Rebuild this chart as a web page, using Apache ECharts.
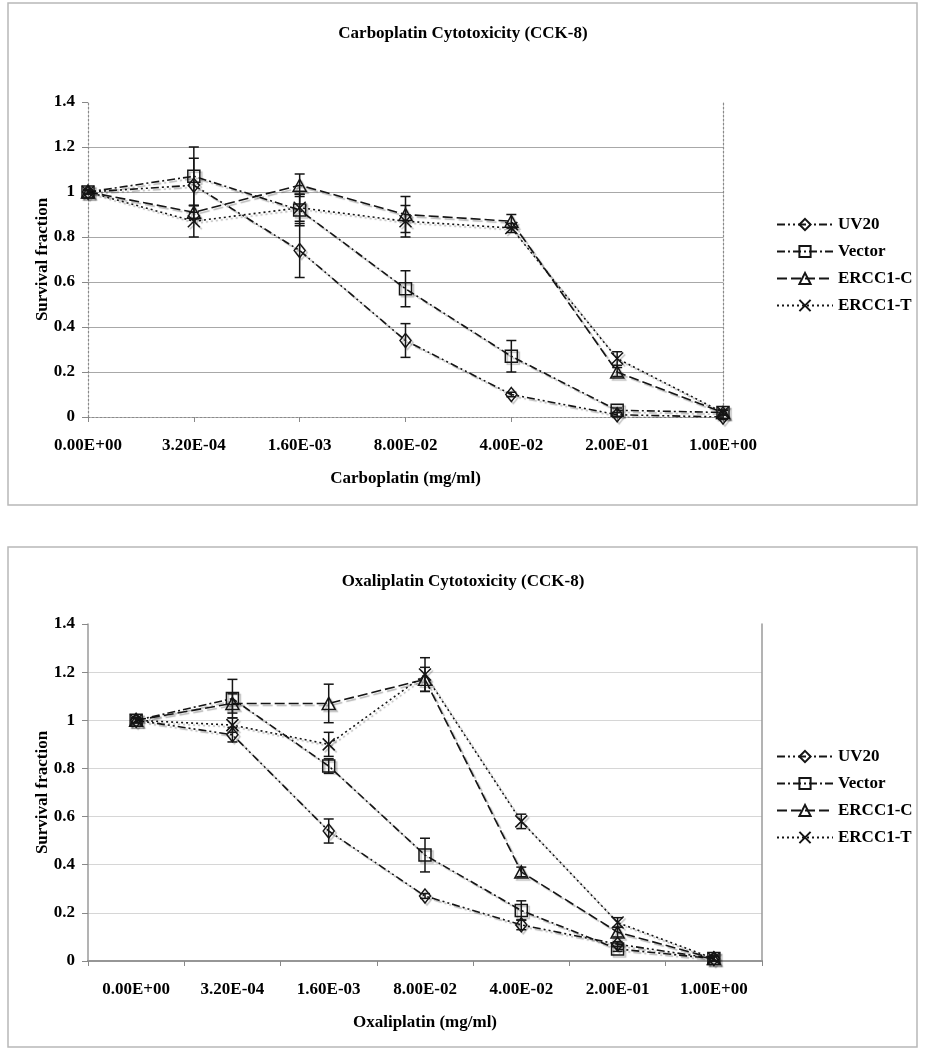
<!DOCTYPE html>
<html>
<head>
<meta charset="utf-8">
<script src="https://cdn.jsdelivr.net/npm/echarts@6/dist/echarts.min.js"></script>
<style>
html,body{margin:0;padding:0;background:#fff;}
#chart{width:926px;height:1050px;}
</style>
</head>
<body>
<div id="chart"></div>
<script>
// ---- data ----
const categories = ['0.00E+00','3.20E-04','1.60E-03','8.00E-02','4.00E-02','2.00E-01','1.00E+00'];
const seriesNames = ['UV20','Vector','ERCC1-C','ERCC1-T'];
const yTicks = [0, 0.2, 0.4, 0.6, 0.8, 1.0, 1.2, 1.4];

// Carboplatin
const carboUV20      = [1.00, 1.03, 0.74, 0.34, 0.10, 0.01, 0.00];
const carboUV20Err   = [0.01, 0.12, 0.12, 0.075, 0.01, 0.01, 0.01];
const carboVector    = [1.00, 1.07, 0.92, 0.57, 0.27, 0.03, 0.02];
const carboVectorErr = [0.01, 0.13, 0.07, 0.08, 0.07, 0.01, 0.01];
const carboErcc1C    = [1.00, 0.91, 1.03, 0.90, 0.87, 0.20, 0.02];
const carboErcc1CErr = [0.01, 0.03, 0.05, 0.08, 0.03, 0.02, 0.01];
const carboErcc1T    = [1.00, 0.87, 0.93, 0.87, 0.84, 0.26, 0.02];
const carboErcc1TErr = [0.01, 0.07, 0.06, 0.07, 0.02, 0.03, 0.01];

// Oxaliplatin
const oxaUV20      = [1.00, 0.94, 0.54, 0.27, 0.15, 0.07, 0.01];
const oxaUV20Err   = [0.01, 0.03, 0.05, 0.01, 0.02, 0.01, 0.01];
const oxaVector    = [1.00, 1.09, 0.81, 0.44, 0.21, 0.05, 0.01];
const oxaVectorErr = [0.01, 0.08, 0.03, 0.07, 0.04, 0.01, 0.01];
const oxaErcc1C    = [1.00, 1.07, 1.07, 1.17, 0.37, 0.12, 0.01];
const oxaErcc1CErr = [0.01, 0.04, 0.08, 0.05, 0.02, 0.02, 0.01];
const oxaErcc1T    = [1.00, 0.98, 0.90, 1.19, 0.58, 0.16, 0.01];
const oxaErcc1TErr = [0.01, 0.03, 0.05, 0.07, 0.03, 0.02, 0.01];

// ---- styles ----
const FONT = 'Liberation Serif';
const INK = '#151515';
const styles = {
  'UV20':    {symbol: 'diamond', size: [11, 14], dash: [8, 3, 2, 3, 2, 3]},
  'Vector':  {symbol: 'rect', size: [12, 12], dash: [8, 3, 2, 3]},
  'ERCC1-C': {symbol: 'triangle', size: [13, 12], dash: [10, 4]},
  'ERCC1-T': {symbol: 'path://M0,0L10,10M10,0L0,10', size: [12, 12], dash: [2, 3]}
};

function lineSeries(name, data, axisIdx) {
  const s = styles[name];
  return {
    type: 'line', name: name, data: data,
    xAxisIndex: axisIdx, yAxisIndex: axisIdx,
    symbol: s.symbol, symbolSize: s.size,
    showAllSymbol: true,
    lineStyle: {color: INK, width: 1.6, type: s.dash,
      shadowColor: 'rgba(0,0,0,0.28)', shadowBlur: 1, shadowOffsetX: 2, shadowOffsetY: 2},
    itemStyle: {color: 'rgba(255,255,255,0)', borderColor: INK, borderWidth: 1.5,
      shadowColor: 'rgba(0,0,0,0.25)', shadowBlur: 1, shadowOffsetX: 2, shadowOffsetY: 2},
    emphasis: {disabled: true},
    z: 3
  };
}

function errSeries(name, vals, errs, axisIdx) {
  return {
    type: 'custom', name: name + ' err',
    xAxisIndex: axisIdx, yAxisIndex: axisIdx,
    data: vals.map((v, i) => [i, v, errs[i]]),
    encode: {x: 0, y: 1},
    z: 4, silent: true,
    renderItem: function (params, api) {
      const i = api.value(0), v = api.value(1), e = api.value(2);
      const hi = api.coord([i, v + e]);
      const lo = api.coord([i, v - e]);
      const w = 5;
      const st = {stroke: INK, lineWidth: 1.5};
      return {type: 'group', children: [
        {type: 'line', shape: {x1: hi[0], y1: hi[1], x2: lo[0], y2: lo[1]}, style: st},
        {type: 'line', shape: {x1: hi[0] - w, y1: hi[1], x2: hi[0] + w, y2: hi[1]}, style: st},
        {type: 'line', shape: {x1: lo[0] - w, y1: lo[1], x2: lo[0] + w, y2: lo[1]}, style: st}
      ]};
    }
  };
}

const labelStyle = {fontFamily: FONT, fontWeight: 'bold', fontSize: 17, color: '#000'};

function mainX(gridIndex, boundaryGap, lineStyle, name) {
  return {
    type: 'category', gridIndex: gridIndex, data: categories, boundaryGap: boundaryGap,
    position: 'bottom',
    axisLine: {show: true, lineStyle: lineStyle},
    axisTick: {show: true, length: 5, lineStyle: {color: '#888'}},
    axisLabel: Object.assign({margin: 20, interval: 0}, labelStyle),
    name: name, nameLocation: 'middle', nameGap: 53, nameMoveOverlap: false,
    nameTextStyle: labelStyle
  };
}
function borderX(gridIndex, boundaryGap, lineStyle) {
  return {
    type: 'category', gridIndex: gridIndex, data: categories, boundaryGap: boundaryGap,
    position: 'top',
    axisLine: {show: true, lineStyle: lineStyle},
    axisTick: {show: false}, axisLabel: {show: false}, splitLine: {show: false}
  };
}
function mainY(gridIndex, lineStyle, splitColors) {
  return {
    type: 'value', gridIndex: gridIndex, min: 0, max: 1.4, interval: 0.2,
    position: 'left',
    axisLine: {show: true, lineStyle: lineStyle},
    axisTick: {show: true, length: 6, lineStyle: {color: '#888'}},
    axisLabel: Object.assign({margin: 13, formatter: v => String(+v.toFixed(1))}, labelStyle),
    splitLine: {show: true, lineStyle: {color: splitColors, width: 1.2}},
    name: 'Survival fraction', nameLocation: 'middle', nameGap: 37, nameMoveOverlap: false,
    nameTextStyle: labelStyle
  };
}
function borderY(gridIndex, lineStyle) {
  return {
    type: 'value', gridIndex: gridIndex, min: 0, max: 1.4, interval: 0.2,
    position: 'right',
    axisLine: {show: true, lineStyle: lineStyle},
    axisTick: {show: false}, axisLabel: {show: false}, splitLine: {show: false}
  };
}

const dotted = {color: '#8a8a8a', width: 1.2, type: [2, 2]};
const topSplit = yTicks.map((t, i) => (i === 0 || i === yTicks.length - 1) ? 'rgba(0,0,0,0)' : '#a8a8a8');
const botSplit = yTicks.map((t, i) => (i === 0 || i === yTicks.length - 1) ? 'rgba(0,0,0,0)' : '#d6d6d6');

const chart = echarts.init(document.getElementById('chart'), null, {renderer: 'canvas'});

const legendBase = {
  orient: 'vertical', left: 776, padding: 0, itemWidth: 56, itemHeight: 14, itemGap: 10,
  textStyle: {fontFamily: FONT, fontWeight: 'bold', fontSize: 17, color: '#000'},
  data: seriesNames, selectedMode: false
};

const option = {
  backgroundColor: '#fff',
  animation: false,
  title: [
    {text: 'Carboplatin Cytotoxicity (CCK-8)', left: 'center', top: 20,
     textStyle: {fontFamily: FONT, fontWeight: 'bold', fontSize: 17, color: '#000'}},
    {text: 'Oxaliplatin Cytotoxicity (CCK-8)', left: 'center', top: 568,
     textStyle: {fontFamily: FONT, fontWeight: 'bold', fontSize: 17, color: '#000'}}
  ],
  legend: [
    Object.assign({}, legendBase, {top: 216}),
    Object.assign({}, legendBase, {top: 748})
  ],
  grid: [
    {left: 88, width: 635, top: 102, height: 315},
    {left: 88, width: 674, top: 624, height: 337}
  ],
  xAxis: [
    mainX(0, false, dotted, 'Carboplatin (mg/ml)'),
    borderX(0, false, dotted),
    mainX(1, true, {color: '#8a8a8a', width: 2.2}, 'Oxaliplatin (mg/ml)'),
    borderX(1, true, {color: '#9a9a9a', width: 1.5})
  ],
  yAxis: [
    mainY(0, dotted, topSplit),
    borderY(0, dotted),
    mainY(1, {color: '#9a9a9a', width: 1.5}, botSplit),
    borderY(1, {color: '#9a9a9a', width: 1.5})
  ],
  graphic: [
    {type: 'rect', shape: {x: 8, y: 3, width: 909, height: 502}, style: {fill: 'none', stroke: '#b8b8b8', lineWidth: 1.5}, z: -10},
    {type: 'rect', shape: {x: 8, y: 547, width: 909, height: 500}, style: {fill: 'none', stroke: '#b8b8b8', lineWidth: 1.5}, z: -10}
  ],
  series: [
    lineSeries('UV20', carboUV20, 0),
    lineSeries('Vector', carboVector, 0),
    lineSeries('ERCC1-C', carboErcc1C, 0),
    lineSeries('ERCC1-T', carboErcc1T, 0),
    errSeries('UV20', carboUV20, carboUV20Err, 0),
    errSeries('Vector', carboVector, carboVectorErr, 0),
    errSeries('ERCC1-C', carboErcc1C, carboErcc1CErr, 0),
    errSeries('ERCC1-T', carboErcc1T, carboErcc1TErr, 0),
    lineSeries('UV20', oxaUV20, 2),
    lineSeries('Vector', oxaVector, 2),
    lineSeries('ERCC1-C', oxaErcc1C, 2),
    lineSeries('ERCC1-T', oxaErcc1T, 2),
    errSeries('UV20', oxaUV20, oxaUV20Err, 2),
    errSeries('Vector', oxaVector, oxaVectorErr, 2),
    errSeries('ERCC1-C', oxaErcc1C, oxaErcc1CErr, 2),
    errSeries('ERCC1-T', oxaErcc1T, oxaErcc1TErr, 2)
  ]
};
chart.setOption(option);
</script>
</body>
</html>
